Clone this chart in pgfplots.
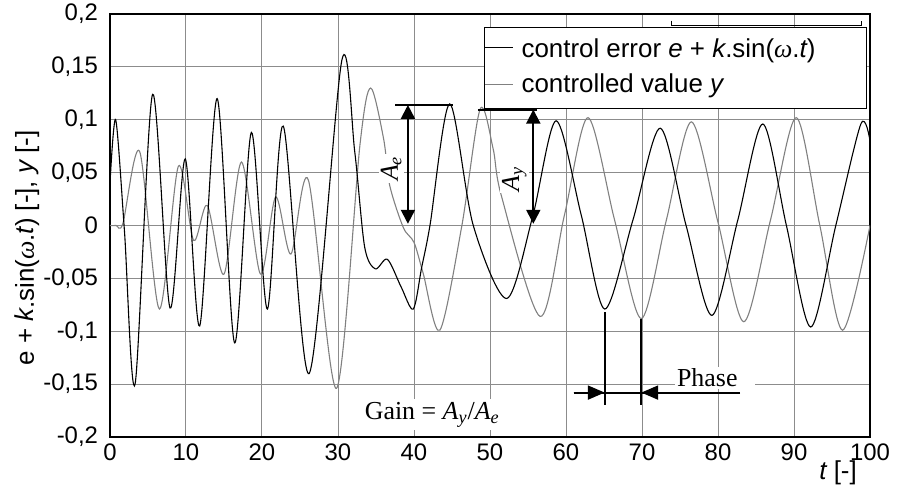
\documentclass[border=0pt]{standalone}
\usepackage{fontspec}
\setmainfont{Liberation Sans}
\newfontfamily\serif{Liberation Serif}
\usepackage{pgfplots}
\pgfplotsset{compat=1.18}
\usetikzlibrary{arrows.meta}

\newcommand{\lab}{\fontsize{13}{15}\selectfont}
\newcommand{\ann}{\serif\fontsize{13}{15}\selectfont}
\newcommand{\Asub}[1]{{\itshape A}\textsubscript{\itshape #1}}

\begin{document}
\begin{tikzpicture}
\begin{axis}[
  scale only axis,
  width=380bp, height=211.5bp,
  xmin=0, xmax=100, ymin=-0.2, ymax=0.2,
  xtick={0,10,...,100},
  ytick={-0.2,-0.15,-0.1,-0.05,0,0.05,0.1,0.15,0.2},
  major tick length=0pt,
  grid=major,
  major grid style={black!45, line width=0.5bp},
  axis line style={line width=1bp},
  ticklabel style={font=\fontsize{12}{14}\selectfont},
  yticklabel style={xshift=-2.5bp},
  /pgf/number format/.cd, use comma, fixed, assume math mode=true,
  /pgfplots/.cd,
  xlabel={{\itshape t} [-]},
  xlabel style={at={(axis description cs:0.958,-0.055)}, anchor=north, inner sep=0pt, font=\lab},
  ylabel={e + {\itshape k}.sin({\serif\itshape ω}.{\itshape t}) [-], {\itshape y} [-]},
  ylabel style={at={(axis description cs:-0.109,0.447)}, anchor=center, font=\lab},
]
% controlled value y (grey)
\addplot[smooth, gray, line width=0.55bp] coordinates {
(0,0) (0.8,0) (1.7,0.002) (3.9,0.070) (6.5,-0.079) (9.0,0.056) (11.0,-0.014)
(12.8,0.019) (15.0,-0.046) (17.3,0.060) (19.8,-0.046) (21.8,0.027) (23.8,-0.027)
(26.1,0.043) (29.8,-0.154) (32.9,0.077) (34.3,0.130) (36.0,0.082) (36.8,0.038)
(38.6,-0.002) (40.0,-0.016) (41.2,-0.045) (43.4,-0.099) (46.3,0.000) (48.7,0.110)
(50.4,0.073) (51.5,0.028) (56.6,-0.086) (59.8,0.010) (62.9,0.102) (66.4,0.005)
(69.9,-0.088) (73.2,0.005) (76.5,0.098) (80.0,0.003) (83.4,-0.091) (86.9,0.005)
(90.3,0.102) (93.4,0.000) (96.4,-0.099) (100,0.000)
};
% control error e + k.sin(w.t) (black)
\addplot[smooth, black, line width=0.55bp] coordinates {
(0,0.04) (0.75,0.100) (1.9,-0.005) (3.3,-0.150) (5.6,0.124) (7.9,-0.078) (9.9,0.063)
(11.8,-0.095) (14.1,0.120) (16.4,-0.111) (18.6,0.088) (20.7,-0.079) (22.8,0.094)
(26.2,-0.140) (30.5,0.156) (32.2,0.070) (33.5,-0.020) (34.9,-0.041) (36.5,-0.032)
(38.3,-0.058) (39.9,-0.079) (41.0,-0.040) (42.1,0.000) (44.7,0.115) (47.8,0.000)
(52.2,-0.069) (55.6,0.008) (58.7,0.099) (62.0,0.010) (65.1,-0.079) (68.8,0.005)
(72.4,0.092) (75.8,0.000) (79.2,-0.085) (82.6,0.005) (85.9,0.096) (89.0,0.000)
(92.2,-0.096) (95.5,0.000) (98.8,0.096) (100,0.080)
};

% legend
\draw[line width=0.6bp] (73.9,0.1937) -- (73.9,0.189) -- (98.9,0.189) -- (98.9,0.1937);
\draw[fill=white, line width=0.6bp] (49.3,0.1103) rectangle (99.5,0.1874);
\draw[black, line width=0.55bp] (49.3,0.168) -- (53.0,0.168);
\draw[gray, line width=0.55bp] (49.3,0.133) -- (53.0,0.133);
\node[anchor=base west, inner sep=0pt, font=\lab] at (54.1,0.1584)
  {control error {\itshape e} + {\itshape k}.sin({\serif\itshape ω}.{\itshape t})};
\node[anchor=base west, inner sep=0pt, font=\lab] at (54.1,0.126)
  {controlled value {\itshape y}};

% amplitude of e
\draw[line width=1bp] (37.5,0.114) -- (45.1,0.114);
\draw[line width=1bp, {Triangle[length=7bp,width=7bp]}-{Triangle[length=7bp,width=7bp]}] (39.2,0.114) -- (39.2,0.0016);
\node[rotate=90, fill=white, inner sep=1bp, font=\ann] at (37.0,0.054) {\Asub{e}};

% amplitude of y
\draw[line width=1bp] (48.4,0.1096) -- (56.2,0.1096);
\draw[line width=1bp, {Triangle[length=7bp,width=7bp]}-{Triangle[length=7bp,width=7bp]}] (55.7,0.1096) -- (55.7,0.0016);
\node[rotate=90, fill=white, inner sep=1bp, font=\ann] at (53.2,0.044) {\Asub{y}};

% phase
\draw[line width=1bp] (65.1,-0.082) -- (65.1,-0.170);
\draw[line width=1bp] (69.9,-0.088) -- (69.9,-0.170);
\draw[line width=1bp] (61.0,-0.158) -- (82.9,-0.158);
\draw[line width=1bp, -{Triangle[length=8.5bp,width=7bp]}] (61.0,-0.158) -- (65.1,-0.158);
\draw[line width=1bp, -{Triangle[length=8.5bp,width=7bp]}] (82.9,-0.158) -- (69.9,-0.158);
\node[anchor=west, fill=white, inner sep=1bp, text width=38bp, align=left, font=\ann] at (74.3,-0.144) {Phase};

% gain
\node[fill=white, inner sep=1.5bp, font=\ann] at (42.4,-0.179) {Gain = \Asub{y}/\Asub{e}};
\end{axis}
\pgfresetboundingbox
\path[use as bounding box] ([shift={(-55bp,-25.5bp)}]current axis.south west) rectangle ([shift={(15bp,7bp)}]current axis.north east);
\end{tikzpicture}
\end{document}
